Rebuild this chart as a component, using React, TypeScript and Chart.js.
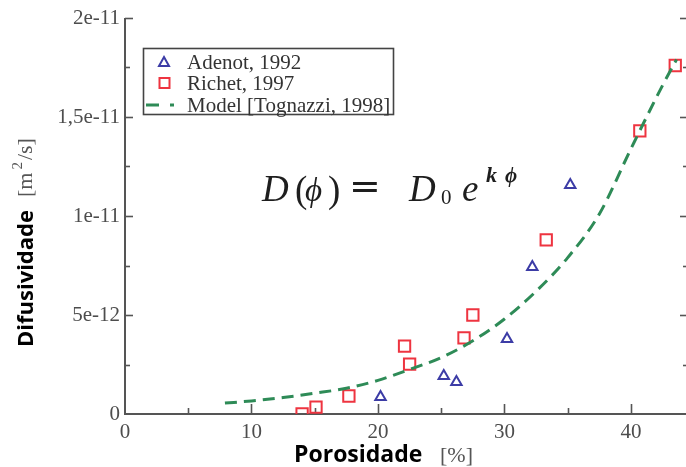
import { useEffect, useRef } from 'react';
import { Chart, registerables } from 'chart.js';

Chart.register(...registerables);

// Adenot (1992) measurements: porosity [%] vs diffusivity [m²/s]
const adenotPorosity = [20.2, 25.2, 26.2, 30.2, 32.2, 35.2];
const adenotDiffusivity = [0.86e-12, 1.92e-12, 1.62e-12, 3.79e-12, 7.42e-12, 11.57e-12];

// Richet (1997) measurements
const richetPorosity = [14.0, 15.1, 17.7, 22.1, 22.5, 26.8, 27.5, 33.3, 40.7, 43.5];
const richetDiffusivity = [0, 0.35e-12, 0.91e-12, 3.43e-12, 2.52e-12, 3.84e-12, 5.0e-12, 8.79e-12, 14.3e-12, 17.6e-12];

// Model curve [Tognazzi, 1998]
const modelPorosity = [7.9, 10, 12.5, 15, 17.5, 20, 22.5, 25, 27.5, 30, 32.5, 35, 37.5, 40, 42.5, 43.6];
const modelDiffusivity = [
  0.55e-12, 0.66e-12, 0.83e-12, 1.05e-12, 1.3e-12, 1.7e-12, 2.25e-12, 2.85e-12,
  3.7e-12, 4.8e-12, 6.2e-12, 7.9e-12, 10.1e-12, 13.4e-12, 16.6e-12, 17.9e-12,
];

// Axis ticks
const yTickLabels = ['0', '5e-12', '1e-11', '1,5e-11', '2e-11'];
const yStep = 5e-12;
const xMajorTicks = [10, 20, 30, 40];
const xMinorTicks = [5, 15, 25, 35];
const yMajorTicks = [5e-12, 1e-11, 1.5e-11, 2e-11];
const yMinorTicks = [2.5e-12, 7.5e-12, 1.25e-11, 1.75e-11];

const legendLabels = ['Adenot, 1992', 'Richet, 1997', 'Model [Tognazzi, 1998]'];

const BLUE = '#3c3ca6';
const RED = '#ee3440';
const GREEN = '#2e8b57';
const AXIS = '#555555';
const SERIF = '"Liberation Serif", "DejaVu Serif", serif';
const SANS = '"Open Sans", "Noto Sans", sans-serif';

const toPoints = (xs: number[], ys: number[]) => xs.map((x, i) => ({ x, y: ys[i] }));

const axesPlugin = {
  id: 'axesFrame',
  beforeDatasetsDraw(chart: any) {
    const { ctx, chartArea: a, scales } = chart;
    const x = scales.x;
    const y = scales.y;
    ctx.save();
    ctx.strokeStyle = AXIS;
    ctx.lineWidth = 2;
    ctx.beginPath();
    ctx.moveTo(a.left, a.top);
    ctx.lineTo(a.left, a.bottom);
    ctx.lineTo(a.right, a.bottom);
    ctx.stroke();

    ctx.lineWidth = 1.6;
    const seg = (x1: number, y1: number, x2: number, y2: number) => {
      ctx.beginPath();
      ctx.moveTo(x1, y1);
      ctx.lineTo(x2, y2);
      ctx.stroke();
    };
    xMajorTicks.forEach((v) => {
      const px = Math.round(x.getPixelForValue(v)) + 0.5;
      seg(px, a.bottom, px, a.bottom - 10);
    });
    xMinorTicks.forEach((v) => {
      const px = Math.round(x.getPixelForValue(v)) + 0.5;
      seg(px, a.bottom, px, a.bottom - 6);
    });
    yMajorTicks.forEach((v) => {
      const py = Math.round(y.getPixelForValue(v)) + 0.5;
      seg(a.left, py, a.left + 8, py);
      seg(a.right, py, a.right - 6, py);
    });
    yMinorTicks.forEach((v) => {
      const py = Math.round(y.getPixelForValue(v)) + 0.5;
      seg(a.left, py, a.left + 5, py);
      seg(a.right, py, a.right - 3, py);
    });
    ctx.restore();
  },
  afterDraw(chart: any) {
    const { ctx } = chart;
    ctx.save();

    // Legend box
    const bx = 143.5;
    const by = 48.5;
    const bw = 250;
    const bh = 66;
    ctx.fillStyle = '#ffffff';
    ctx.fillRect(bx, by, bw, bh);
    ctx.strokeStyle = '#444444';
    ctx.lineWidth = 1.6;
    ctx.strokeRect(bx, by, bw, bh);

    const rows = [62, 83, 105];
    // triangle marker
    ctx.lineWidth = 2;
    ctx.strokeStyle = BLUE;
    ctx.beginPath();
    ctx.moveTo(164, rows[0] - 5);
    ctx.lineTo(169, rows[0] + 4);
    ctx.lineTo(159, rows[0] + 4);
    ctx.closePath();
    ctx.stroke();
    // square marker
    ctx.strokeStyle = RED;
    ctx.strokeRect(159.5, rows[1] - 5, 10, 10);
    // dashed line sample
    ctx.strokeStyle = GREEN;
    ctx.lineWidth = 3;
    ctx.beginPath();
    ctx.moveTo(146, rows[2]);
    ctx.lineTo(159, rows[2]);
    ctx.moveTo(170, rows[2]);
    ctx.lineTo(174, rows[2]);
    ctx.stroke();

    ctx.fillStyle = '#333333';
    ctx.font = `21px ${SERIF}`;
    ctx.textBaseline = 'middle';
    ctx.textAlign = 'left';
    legendLabels.forEach((t, i) => ctx.fillText(t, 187, rows[i] + 1));

    // Equation  D(ϕ) = D0 e^{kϕ}
    ctx.fillStyle = '#1e1e1e';
    ctx.textBaseline = 'alphabetic';
    const base = 201;
    const big = 37;
    const parts: [string, string, number, number, number, string][] = [
      ['D', 'italic', big, 262, base, SERIF],
      ['(', 'normal', big, 295, base + 1, SERIF],
      ['\u03D5', 'italic', 33, 305, base, SERIF],
      [')', 'normal', big, 328, base + 1, SERIF],
      ['=', 'normal', 38, 349, base - 2, '"DejaVu Serif", serif'],
      ['D', 'italic', big, 409, base, SERIF],
      ['0', 'normal', 21, 441, base + 3, SERIF],
      ['e', 'italic', big, 462, base, SERIF],
      ['k', 'italic bold', 22, 486, base - 19, SERIF],
      ['\u03D5', 'italic bold', 21, 505, base - 19, SERIF],
    ];
    parts.forEach(([t, style, size, px, py, fam]) => {
      ctx.font = `${style} ${size}px ${fam}`;
      ctx.fillText(t, px, py);
    });

    // X axis title
    ctx.font = `bold 23px ${SANS}`;
    ctx.fillStyle = '#000000';
    ctx.fillText('Porosidade', 294, 462);
    ctx.font = `22px ${SERIF}`;
    ctx.fillStyle = '#555555';
    ctx.fillText('[%]', 440, 462);

    // Y axis title (rotated)
    ctx.save();
    ctx.translate(33, 347);
    ctx.rotate(-Math.PI / 2);
    ctx.font = `bold 22px ${SANS}`;
    ctx.fillStyle = '#000000';
    ctx.fillText('Difusividade', 0, 0);
    ctx.restore();

    ctx.save();
    ctx.translate(32, 197);
    ctx.rotate(-Math.PI / 2);
    ctx.fillStyle = '#555555';
    ctx.font = `22px ${SERIF}`;
    let cx = 0;
    ctx.fillText('[m', cx, 0);
    cx += ctx.measureText('[m').width;
    ctx.font = `15px ${SERIF}`;
    ctx.fillText('2', cx + 3, -10);
    cx += ctx.measureText('2').width + 5;
    ctx.font = `22px ${SERIF}`;
    ctx.fillText('/s]', cx, 0);
    ctx.restore();

    ctx.restore();
  },
};

export default function App() {
  const canvasRef = useRef<HTMLCanvasElement | null>(null);

  useEffect(() => {
    const canvas = canvasRef.current;
    if (!canvas) return;
    const chart = new Chart(canvas, {
      type: 'scatter',
      data: {
        datasets: [
          {
            type: 'line',
            label: legendLabels[2],
            data: toPoints(modelPorosity, modelDiffusivity),
            borderColor: GREEN,
            borderWidth: 3,
            borderDash: [12, 7],
            pointRadius: 0,
            fill: false,
            cubicInterpolationMode: 'monotone',
          },
          {
            label: legendLabels[0],
            data: toPoints(adenotPorosity, adenotDiffusivity),
            pointStyle: 'triangle',
            pointRadius: 6,
            pointBorderWidth: 2,
            borderColor: BLUE,
            backgroundColor: 'rgba(0,0,0,0)',
          },
          {
            label: legendLabels[1],
            data: toPoints(richetPorosity, richetDiffusivity),
            pointStyle: 'rect',
            pointRadius: 8,
            pointBorderWidth: 2,
            borderColor: RED,
            backgroundColor: 'rgba(0,0,0,0)',
          },
        ],
      } as any,
      options: {
        responsive: false,
        animation: false,
        layout: { autoPadding: false, padding: { top: 18, right: 0, left: 0, bottom: 0 } },
        plugins: {
          legend: { display: false },
          tooltip: { enabled: false },
        },
        scales: {
          x: {
            type: 'linear',
            min: 0,
            max: 44.35,
            grid: { display: false, drawTicks: false },
            border: { display: false },
            ticks: {
              stepSize: 10,
              includeBounds: false,
              autoSkip: false,
              maxRotation: 0,
              padding: 6,
              color: '#4d4d4d',
              font: { family: SERIF, size: 21 },
            },
            afterFit: (s: any) => {
              s.height = 53;
              s.paddingLeft = 0;
              s.paddingRight = 0;
            },
          },
          y: {
            type: 'linear',
            min: 0,
            max: 2e-11,
            grid: { display: false, drawTicks: false },
            border: { display: false },
            ticks: {
              stepSize: yStep,
              includeBounds: false,
              autoSkip: false,
              padding: 5,
              color: '#4d4d4d',
              font: { family: SERIF, size: 21 },
              callback: (v: any) => yTickLabels[Math.round(Number(v) / yStep)] ?? '',
            },
            afterFit: (s: any) => {
              s.width = 125;
            },
          },
        },
      } as any,
      plugins: [axesPlugin],
    });
    return () => chart.destroy();
  }, []);

  return (
    <div style={{ position: 'absolute', left: 0, top: 0, width: 686, height: 467, background: '#fff' }}>
      <canvas ref={canvasRef} width={686} height={467} />
    </div>
  );
}
